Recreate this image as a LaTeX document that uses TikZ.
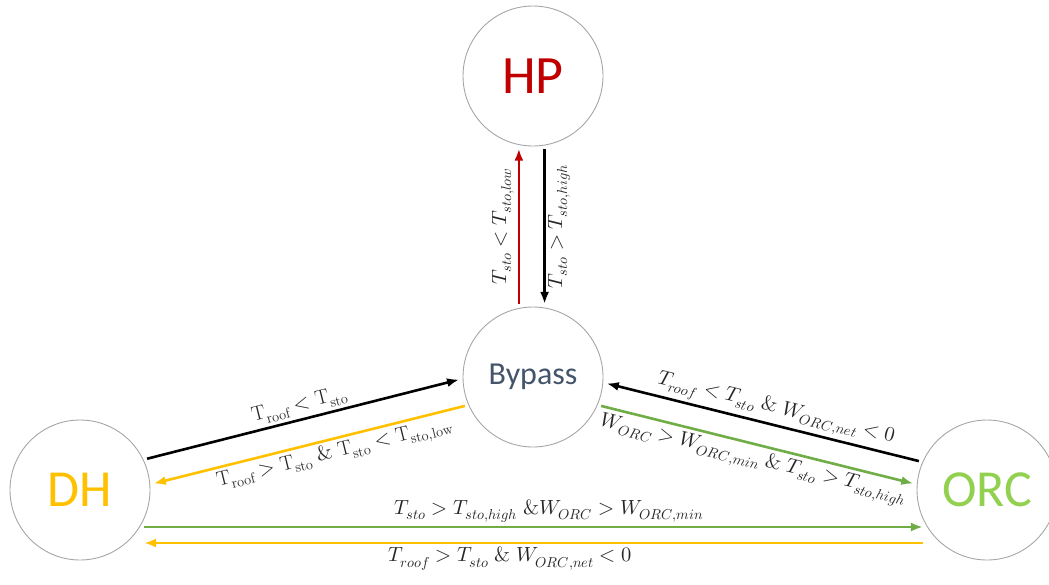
\documentclass[tikz,border=0pt]{standalone}
\usepackage{fontspec}
\usepackage{unicode-math}
\newfontfamily\calib{Carlito}
\usetikzlibrary{arrows.meta,positioning}
\definecolor{hpred}{HTML}{C00000}
\definecolor{dhyellow}{HTML}{FFC000}
\definecolor{orcgreen}{HTML}{92D050}
\definecolor{arrgreen}{HTML}{70AD47}
\definecolor{bypblue}{HTML}{44546A}
\tikzset{>={Latex[length=12pt,width=9pt]}}
\newcommand{\Tup}[1]{\mathrm{T}_{\mathrm{#1}}}

\begin{document}
\begin{tikzpicture}[x=1pt,y=-1pt,
    state/.style={circle, draw=gray!70, line width=0.9pt, minimum size=140pt, inner sep=0pt, outer sep=4pt},
    trans/.style={->, line width=2.6pt},
    cond/.style={font=\fontsize{20.5}{24}\selectfont, inner sep=3pt, text=black!85}]

  \useasboundingbox (0,0) rectangle (1049,584);

  % states
  \node[state, text=hpred, font=\calib\fontsize{54}{54}\selectfont] (hp) at (533,76) {HP};
  \node[state, text=bypblue, font=\calib\fontsize{32}{32}\selectfont] (byp) at (533,377) {Bypass};
  \node[state, text=dhyellow, font=\calib\fontsize{52}{52}\selectfont] (dh) at (80,490) {DH};
  \node[state, text=orcgreen, font=\calib\fontsize{52}{52}\selectfont] (orc) at (987,490) {ORC};

  % HP <-> Bypass
  \draw[trans, hpred] (byp.101) -- (hp.259)
    node[midway, rotate=90, anchor=south, cond] {$T_{sto} < T_{sto,low}$};
  \draw[trans] (hp.279) -- (byp.81)
    node[midway, rotate=90, anchor=north, cond] {$T_{sto} > T_{sto,high}$};

  % DH <-> Bypass
  \draw[trans] (dh.25) -- (byp.182)
    node[midway, sloped, above, cond] {$\Tup{roof} < \Tup{sto}$};
  \draw[trans, dhyellow] (byp.203) -- (dh.5)
    node[pos=0.43, sloped, below, cond] {$\Tup{roof} > \Tup{sto} \;\&\; \Tup{sto} < \Tup{sto,low}$};

  % Bypass <-> ORC
  \draw[trans] (orc.157) -- (byp.-5)
    node[pos=0.47, sloped, above, cond] {$T_{roof} < T_{sto} \;\&\; W_{ORC,net} < 0$};
  \draw[trans, arrgreen] (byp.-23) -- (orc.175)
    node[midway, sloped, below, cond] {$W_{ORC} > W_{ORC,min} \;\&\; T_{sto} > T_{sto,high}$};

  % DH <-> ORC
  \draw[trans, arrgreen] (dh.-30) -- (orc.210)
    node[pos=0.52, above, cond] {$T_{sto} > T_{sto,high} \;\&W_{ORC} > W_{ORC,min}$};
  \draw[trans, dhyellow] ([yshift=-16pt]orc.210) -- ([yshift=-16pt]dh.-30)
    node[pos=0.53, below, cond] {$T_{roof} > T_{sto} \;\&\; W_{ORC,net} < 0$};
\end{tikzpicture}
\end{document}
